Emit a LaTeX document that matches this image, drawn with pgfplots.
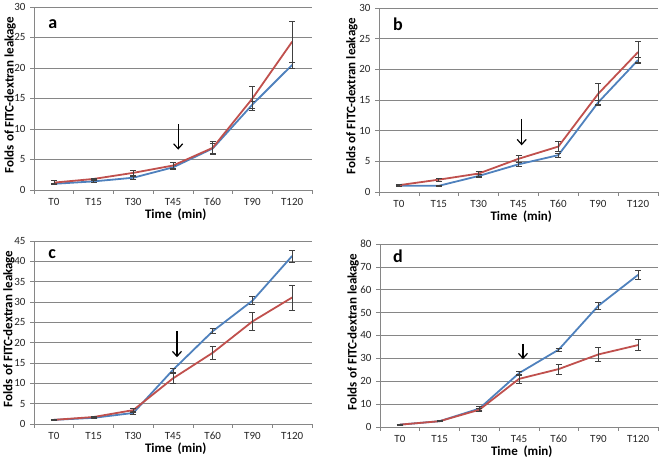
\documentclass[border=0pt]{standalone}
\usepackage{fontspec}
\setmainfont{Carlito}
\usepackage{pgfplots}
\pgfplotsset{compat=1.18}
\usetikzlibrary{arrows.meta}
\definecolor{gridc}{RGB}{134,134,134}
\definecolor{xblue}{RGB}{79,129,189}
\definecolor{xred}{RGB}{192,80,77}
\tikzset{arr/.style={-{Straight Barb[length=5pt,width=9pt,line width=1.2pt]}, line width=1.2pt}}
\pgfplotsset{
  panel/.style={
    scale only axis,
    clip=false,
    anchor=south west,
    xmin=-0.5, xmax=6.5,
    xtick={0,...,6},
    xticklabels={T0,T15,T30,T45,T60,T90,T120},
    minor xtick={-0.5,0.5,...,6.5},
    axis x line=bottom, axis y line=left,
    axis line style={-, draw=gridc, line width=0.7pt},
    ymajorgrids,
    grid style={draw=gridc, line width=0.6pt},
    tick align=outside,
    major tick length=4pt, minor tick length=4pt,
    every major x tick/.style={draw=none},
    every tick/.style={draw=gridc, line width=0.6pt},
    tick label style={font=\fontsize{11}{12}\selectfont, text=black!85},
    /pgf/number format/assume math mode=true,
    xticklabel style={yshift=-1pt},
    yticklabel style={xshift=-1pt},
    xlabel={Time\ \ (min)},
    ylabel={Folds of FITC-dextran leakage},
    label style={font=\bfseries\fontsize{13}{15}\selectfont},
    xlabel style={at={(axis description cs:0.51,0)}, anchor=center, yshift=-25pt},
    ymin=0,
  },
  bl/.style={color=xblue, line width=1.8pt, mark=none,
    error bars/.cd, y dir=both, y explicit,
    error bar style={draw=black!75, line width=0.6pt},
    error mark options={rotate=90, mark size=3pt, draw=black!75, line width=0.6pt}},
  rd/.style={color=xred, line width=1.8pt, mark=none,
    error bars/.cd, y dir=both, y explicit,
    error bar style={draw=black!75, line width=0.6pt},
    error mark options={rotate=90, mark size=3pt, draw=black!75, line width=0.6pt}},
}
\begin{document}
\begin{tikzpicture}
\path (0,0) rectangle (660pt,-458pt);
% panel a
\begin{axis}[panel, at={(34pt,-189pt)}, width=278pt, height=183pt,
  ymax=30, ytick={0,5,...,30},
  ylabel style={at={(axis description cs:-0.086,0.52)}, anchor=center}]
\addplot[bl] table[x=x,y=y,y error=e] {
x y e
0 1.0 0.15
1 1.4 0.1
2 2.0 0.2
3 3.7 0.3
4 6.8 0.8
5 14.0 0.6
6 20.5 0.5
};
\addplot[rd] table[x=x,y=y,y error=e] {
x y e
0 1.2 0.3
1 1.8 0.1
2 2.8 0.4
3 4.0 0.5
4 6.9 1.1
5 15.0 2.0
6 24.3 3.4
};
\draw[arr] (axis cs:3.13,10.8) -- (axis cs:3.13,6.6);
\node[font=\bfseries\fontsize{18}{20}\selectfont] at (axis description cs:0.068,0.907) {a};
\end{axis}
% panel b
\begin{axis}[panel, at={(379pt,-191pt)}, width=279pt, height=184pt,
  ymax=30, ytick={0,5,...,30},
  ylabel style={at={(axis description cs:-0.097,0.52)}, anchor=center}]
\addplot[bl] table[x=x,y=y,y error=e] {
x y e
0 1.0 0.1
1 1.0 0.1
2 2.6 0.2
3 4.5 0.3
4 6.0 0.3
5 14.6 0.4
6 21.5 0.4
};
\addplot[rd] table[x=x,y=y,y error=e] {
x y e
0 1.1 0.15
1 2.0 0.2
2 3.0 0.4
3 5.4 0.6
4 7.4 0.8
5 16.0 1.7
6 22.8 1.8
};
\draw[arr] (axis cs:3.08,11.9) -- (axis cs:3.08,7.6);
\node[font=\bfseries\fontsize{18}{20}\selectfont] at (axis description cs:0.068,0.913) {b};
\end{axis}
% panel c
\begin{axis}[panel, at={(34pt,-423pt)}, width=278pt, height=183pt,
  ymax=45, ytick={0,5,...,45},
  ylabel style={at={(axis description cs:-0.09,0.52)}, anchor=center}]
\addplot[bl] table[x=x,y=y,y error=e] {
x y e
0 1.0 0.1
1 1.5 0.1
2 2.7 0.4
3 13.3 0.5
4 22.8 0.6
5 30.3 1.0
6 41.3 1.5
};
\addplot[rd] table[x=x,y=y,y error=e] {
x y e
0 1.0 0.1
1 1.7 0.1
2 3.4 0.5
3 11.2 1.3
4 17.5 1.6
5 25.2 2.2
6 31.1 3.1
};
\draw[arr] (axis cs:3.1,22.8) -- (axis cs:3.1,16.4);
\node[font=\bfseries\fontsize{18}{20}\selectfont] at (axis description cs:0.065,0.93) {c};
\end{axis}
% panel d
\begin{axis}[panel, at={(380pt,-426pt)}, width=278pt, height=183pt,
  ymax=80, ytick={0,10,...,80},
  ylabel style={at={(axis description cs:-0.097,0.52)}, anchor=center}]
\addplot[bl] table[x=x,y=y,y error=e] {
x y e
0 1.0 0.2
1 2.5 0.2
2 8.0 0.8
3 23.5 1.0
4 33.8 0.7
5 53.0 1.4
6 66.5 1.9
};
\addplot[rd] table[x=x,y=y,y error=e] {
x y e
0 1.0 0.2
1 2.5 0.2
2 7.5 0.8
3 21.0 1.8
4 25.3 2.1
5 31.7 3.0
6 35.8 2.4
};
\draw[arr] (axis cs:3.1,36.3) -- (axis cs:3.1,29.6);
\node[font=\bfseries\fontsize{18}{20}\selectfont] at (axis description cs:0.065,0.93) {d};
\end{axis}
\end{tikzpicture}
\end{document}
